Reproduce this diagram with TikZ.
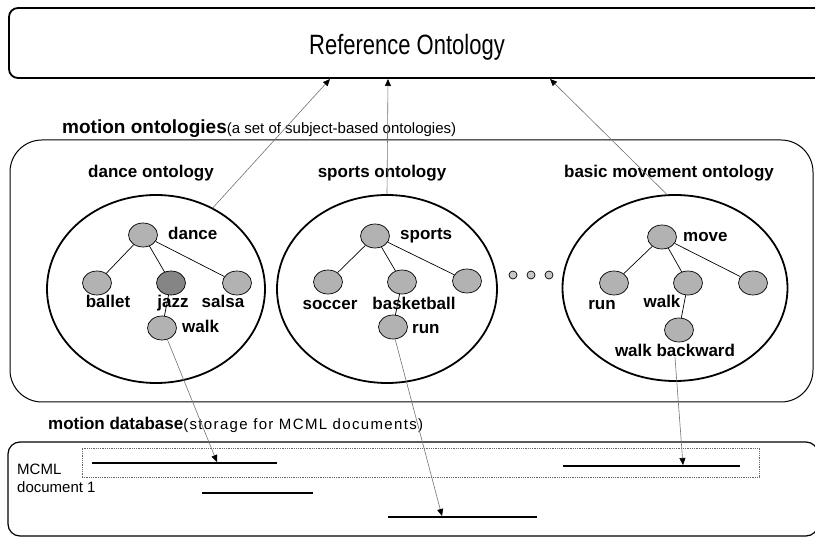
\documentclass[tikz,border=0pt]{standalone}
\usepackage{fontspec}
\setmainfont{Liberation Sans}
\usetikzlibrary{arrows.meta,shapes.geometric}

\begin{document}
\begin{tikzpicture}[x=1pt,y=-1pt,
	onto/.style={draw,ellipse,line width=1.8pt,inner sep=0pt},
	vertex/.style={draw,ellipse,fill=black!30,line width=0.7pt,minimum width=29pt,minimum height=24pt,inner sep=0pt},
	darkvertex/.style={vertex,fill=black!48},
	dot/.style={draw,circle,fill=black!22,line width=0.7pt,minimum size=8pt,inner sep=0pt},
	tag/.style={font=\fontsize{17}{20}\selectfont\bfseries,inner sep=0pt},
	note/.style={font=\fontsize{15}{18}\selectfont,inner sep=0pt},
	edge/.style={line width=0.7pt},
	link/.style={draw=black!55,line width=0.6pt,-{Triangle[length=7pt,width=6pt,color=black]}},
	rec/.style={fill=black,inner sep=0pt,minimum height=2.5pt}]
	\clip (0,0) rectangle (815,537);

	\node[draw,rounded corners=9pt,line width=1.8pt,minimum width=840pt,minimum height=70pt] (refonto) at (429,43) {};
	\node[font=\fontsize{22}{26}\selectfont,anchor=base,inner sep=0pt] (reftitle) at (407,55) {\scalebox{1}[1.27]{Reference Ontology}};

	\node[anchor=base west,inner sep=0pt] (motlabel) at (62,134) {{\fontsize{19}{22}\selectfont\bfseries motion ontologies}{\fontsize{15}{18}\selectfont(a set of subject-based ontologies)}};
	\node[draw,rounded corners=32pt,line width=1pt,minimum width=803pt,minimum height=262pt] (motionbox) at (411.5,271) {};

	\node[tag,anchor=base] (dancetitle) at (151,178) {dance ontology};
	\node[tag,anchor=base] (sportstitle) at (382,178) {sports ontology};
	\node[tag,anchor=base] (basictitle) at (669,178) {basic movement ontology};

	\node[onto,minimum width=218pt,minimum height=188pt] (danceonto) at (156,289) {};
	\node[onto,minimum width=220pt,minimum height=188pt] (sportsonto) at (387,289) {};
	\node[onto,minimum width=225pt,minimum height=186pt] (basiconto) at (675,288) {};

	\node[vertex] (dance) at (143,235) {};
	\node[vertex] (ballet) at (97,283) {};
	\node[darkvertex] (jazz) at (171,283) {};
	\node[vertex] (salsa) at (237,283) {};
	\node[vertex] (dwalk) at (162,328) {};
	\node[tag,anchor=base west] (dancetext) at (168,240) {dance};
	\node[tag,anchor=base] (ballettext) at (108,308) {ballet};
	\node[tag,anchor=base] (jazztext) at (173,308) {jazz};
	\node[tag,anchor=base] (salsatext) at (223,308) {salsa};
	\node[tag,anchor=base west] (dwalktext) at (182,333) {walk};

	\node[vertex] (sports) at (375,236) {};
	\node[vertex] (soccer) at (328,282) {};
	\node[vertex] (basketball) at (402,282) {};
	\node[vertex] (sright) at (467,281) {};
	\node[vertex] (srun) at (393,327) {};
	\node[tag,anchor=base west] (sportstext) at (400,240) {sports};
	\node[tag,anchor=base] (soccertext) at (330,310) {soccer};
	\node[tag,anchor=base] (baskettext) at (414,310) {basketball};
	\node[tag,anchor=base west] (sruntext) at (412,334) {run};

	\node[dot] (dot1) at (513,275) {};
	\node[dot] (dot2) at (531,275) {};
	\node[dot] (dot3) at (549,275) {};

	\node[vertex] (move) at (662,237) {};
	\node[vertex] (brun) at (614,283) {};
	\node[vertex] (bwalk) at (688,283) {};
	\node[vertex] (bright) at (753,283) {};
	\node[vertex] (backward) at (679,330) {};
	\node[tag,anchor=base west] (movetext) at (683,242) {move};
	\node[tag,anchor=base] (bruntext) at (602,310) {run};
	\node[tag,anchor=base] (bwalktext) at (662,308) {walk};
	\node[tag,anchor=base] (backtext) at (675,357) {walk backward};

	\draw[edge] (dance) -- (ballet);
	\draw[edge] (dance) -- (jazz);
	\draw[edge] (dance) -- (salsa);
	\draw[edge] (jazz) -- (dwalk);
	\draw[edge] (sports) -- (soccer);
	\draw[edge] (sports) -- (basketball);
	\draw[edge] (sports) -- (sright);
	\draw[edge] (basketball) -- (srun);
	\draw[edge] (move) -- (brun);
	\draw[edge] (move) -- (bwalk);
	\draw[edge] (move) -- (bright);
	\draw[edge] (bwalk) -- (backward);

	\node[anchor=base west,inner sep=0pt] (dblabel) at (48,430) {{\fontsize{17}{20}\selectfont\bfseries motion database}{\fontsize{15}{18}\addfontfeature{LetterSpace=9}\selectfont(storage for MCML documents)}};
	\node[draw,rounded corners=12pt,line width=1.2pt,minimum width=810pt,minimum height=94pt] (dbbox) at (413,489) {};
	\node[draw=black!60,densely dotted,line width=0.8pt,minimum width=677pt,minimum height=29pt,inner sep=0pt] (docframe) at (420.5,462.5) {};
	\node[note,anchor=base west] (mcml) at (17,475) {MCML};
	\node[note,anchor=base west] (doc1) at (17,493) {document 1};

	\node[rec,minimum width=185pt] (rec1) at (184.5,463) {};
	\node[rec,minimum width=111pt] (rec2) at (257.5,493) {};
	\node[rec,minimum width=177pt] (rec3) at (651.5,466) {};
	\node[rec,minimum width=149pt] (rec4) at (462.5,517) {};

	\coordinate (in1) at (330,79);
	\coordinate (in2) at (388,79);
	\coordinate (in3) at (550,79);
	\coordinate (out1) at (217,462);
	\coordinate (out2) at (442,516);
	\coordinate (out3) at (683,465);

	\draw[link] (danceonto.55) -- (in1);
	\draw[link] (sportsonto.north) -- (in2);
	\draw[link] (basiconto.95) -- (in3);
	\draw[link] (dwalk.-65) -- (out1);
	\draw[link] (srun.-80) -- (out2);
	\draw[link] (backtext.south) -- (out3);
\end{tikzpicture}
\end{document}
